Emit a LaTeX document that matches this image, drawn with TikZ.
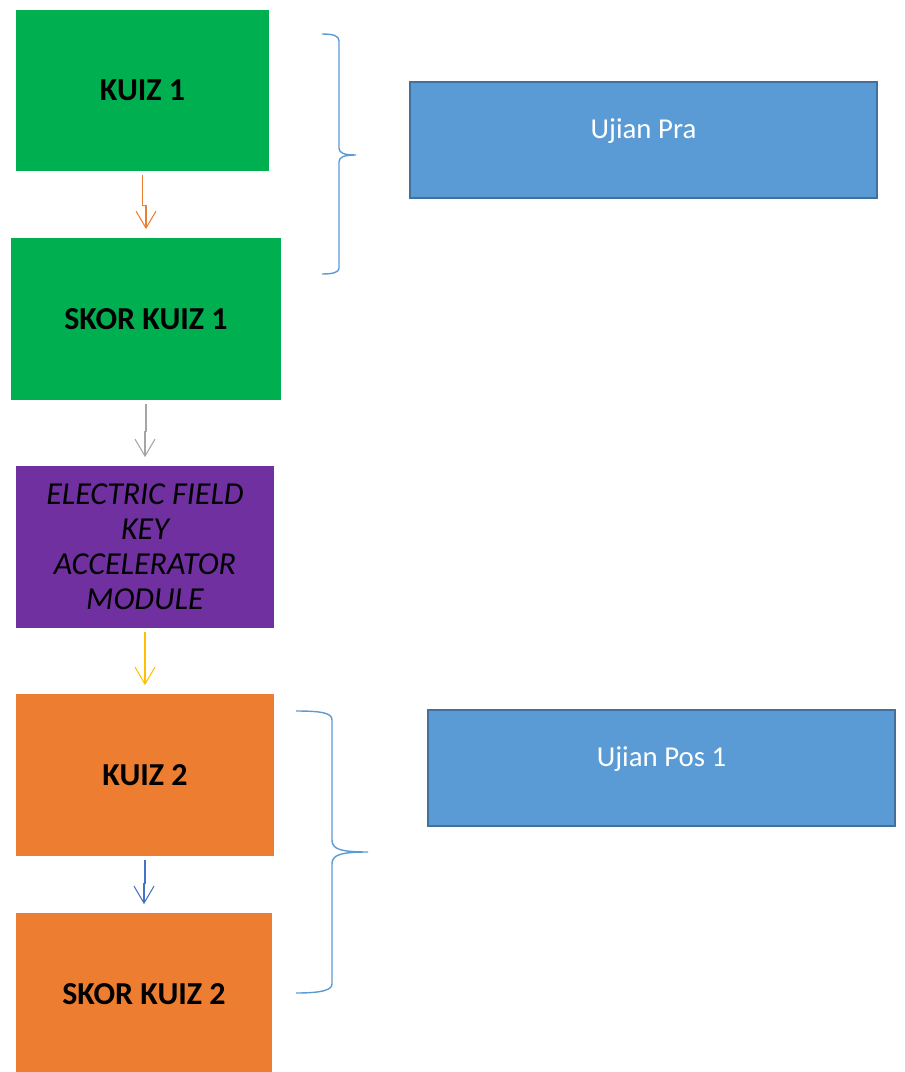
\documentclass[tikz,border=0pt]{standalone}
\usepackage{fontspec}
\setmainfont{Carlito}
\usetikzlibrary{positioning, arrows.meta}
\definecolor{quizgreen}{RGB}{0,176,80}
\definecolor{modpurple}{RGB}{112,48,160}
\definecolor{quizorange}{RGB}{237,125,49}
\definecolor{testblue}{RGB}{91,155,213}
\definecolor{testedge}{RGB}{65,113,156}
\definecolor{arrowgrey}{RGB}{165,165,165}
\definecolor{arrowgold}{RGB}{255,192,0}
\definecolor{arrowblue}{RGB}{68,114,196}

\begin{document}
\begin{tikzpicture}[x=0.02cm, y=-0.02cm,
    stage/.style={rectangle, inner sep=0pt, minimum height=3.24cm,
                  align=center, font=\fontsize{18.2}{20}\selectfont\bfseries},
    module/.style={stage, font=\fontsize{18.2}{20}\selectfont\itshape},
    test/.style={rectangle, draw=testedge, fill=testblue, line width=0.9pt,
                 minimum width=9.34cm, minimum height=2.32cm, text=white,
                 font=\fontsize{16.4}{20}\selectfont,
                 text height=10pt, text depth=11.2pt},
    flow/.style={-{Straight Barb[length=3.4mm, width=4mm]}, line width=0.6pt,
                 shorten <=0.07cm, shorten >=0.17cm},
    brace/.style={draw=testblue, line width=0.8pt},
]
\useasboundingbox (0,0) rectangle (904,1072);

% ─── Flow of stages (left column) ────────────────────────────────
\node[stage, fill=quizgreen, minimum width=5.06cm] (kuiz1) at (142.5, 90.5) {KUIZ 1};
\node[stage, fill=quizgreen, minimum width=5.40cm] (skor1) at (146, 319) {SKOR KUIZ 1};
\node[module, fill=modpurple, minimum width=5.16cm] (efka) at (145, 547)
  {ELECTRIC FIELD\\KEY\\ACCELERATOR\\MODULE};
\node[stage, fill=quizorange, minimum width=5.16cm] (kuiz2) at (145, 775) {KUIZ 2};
\node[stage, fill=quizorange, minimum width=5.12cm] (skor2) at (144, 994) {SKOR KUIZ 2};

\draw[flow, quizorange] (kuiz1.south) -- ++(0,34) -| (skor1.north);
\draw[flow, arrowgrey]  (skor1.south) -- ++(0,31) -| (efka.north);
\draw[flow, arrowgold]  (efka.south) -- (kuiz2.north);
\draw[flow, arrowblue]  (kuiz2.south) -- ++(0,27) -| (skor2.north);

% ─── Tests (right column) ────────────────────────────────────────
\node[test] (pra) at (643.5, 140) {Ujian Pra};
\node[test] (pos) at (661.5, 768) {Ujian Pos 1};

% ─── Braces grouping the quizzes ─────────────────────────────────
\draw[brace] (322,34) .. controls (334,34) and (339,36) .. (339,41)
  -- (339,148) .. controls (339,153) and (344,155) .. (356,155)
  .. controls (344,155) and (339,157) .. (339,162)
  -- (339,268) .. controls (339,272) and (334,274) .. (322,274);
\draw[brace] (296,711) .. controls (322,711) and (332,713) .. (332,720)
  -- (332,840) .. controls (332,849) and (340,852) .. (368,852)
  .. controls (340,852) and (332,855) .. (332,864)
  -- (332,984) .. controls (332,990) and (322,993) .. (296,993);

\end{tikzpicture}
\end{document}
